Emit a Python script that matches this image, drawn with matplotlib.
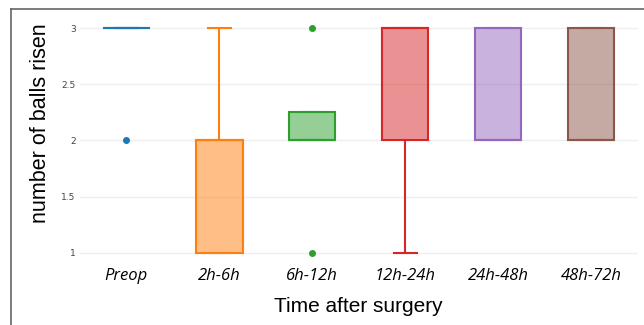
import matplotlib.pyplot as plt
from matplotlib.lines import Line2D
from matplotlib.colors import to_rgba

# box statistics
groups = ['Preop', '2h-6h', '6h-12h', '12h-24h', '24h-48h', '48h-72h']
q1 = [3, 1, 2, 2, 2, 2]
med = [3, 2, 2, 3, 2, 2]
q3 = [3, 2, 2.25, 3, 3, 3]
whis_lo = [3, 1, 2, 1, 2, 2]
whis_hi = [3, 3, 2.25, 3, 3, 3]
outliers = [[2], [], [1, 3], [], [], []]
colors = ['#1f77b4', '#ff7f0e', '#2ca02c', '#d62728', '#9467bd', '#8c564b']

stats = []
for i, g in enumerate(groups):
    stats.append(dict(label=g, q1=q1[i], med=med[i], q3=q3[i],
                      whislo=whis_lo[i], whishi=whis_hi[i], fliers=outliers[i]))

fig = plt.figure(figsize=(6.44, 3.25), dpi=100)
ax = fig.add_axes([0.124, 0.188, 0.866, 0.76])

for i, s in enumerate(stats):
    c = colors[i]
    ax.bxp([s], positions=[i], widths=0.5, patch_artist=True, showfliers=True,
           boxprops=dict(facecolor=to_rgba(c, 0.5), edgecolor=c, linewidth=1.5),
           medianprops=dict(color=c, linewidth=1.5),
           whiskerprops=dict(color=c, linewidth=1.5),
           capprops=dict(color=c, linewidth=1.5),
           capwidths=0.25,
           flierprops=dict(marker='o', markersize=4, markerfacecolor=c,
                           markeredgecolor=c))

ax.set_xlim(-0.5, 5.5)
ax.set_ylim(0.9, 3.1)
ax.set_yticks([1, 1.5, 2, 2.5, 3])
ax.set_yticklabels(['1', '1.5', '2', '2.5', '3'])
ax.set_xticks(range(len(groups)))
ax.set_xticklabels(groups, fontstyle='italic', fontsize=12, family='Open Sans')
ax.tick_params(axis='y', labelsize=6.5, labelcolor='#444444', length=0, pad=3)
ax.tick_params(axis='x', length=0, pad=3)
ax.yaxis.grid(True, color='#eeeeee', linewidth=1)
ax.set_axisbelow(True)
for sp in ax.spines.values():
    sp.set_visible(False)

ax.set_ylabel('number of balls risen', fontsize=15.5, family='Liberation Sans')
ax.yaxis.set_label_coords(-0.052, 0.57)
ax.set_xlabel('Time after surgery', fontsize=15, family='Liberation Sans', labelpad=9)

# frame lines on the left and top of the figure
fig.add_artist(Line2D([11 / 644, 11 / 644], [0, 1 - 9 / 325], color='#666666', linewidth=1.2))
fig.add_artist(Line2D([11 / 644, 1], [1 - 9 / 325, 1 - 9 / 325], color='#666666', linewidth=1.2))

fig.savefig('out.png', dpi=100)
